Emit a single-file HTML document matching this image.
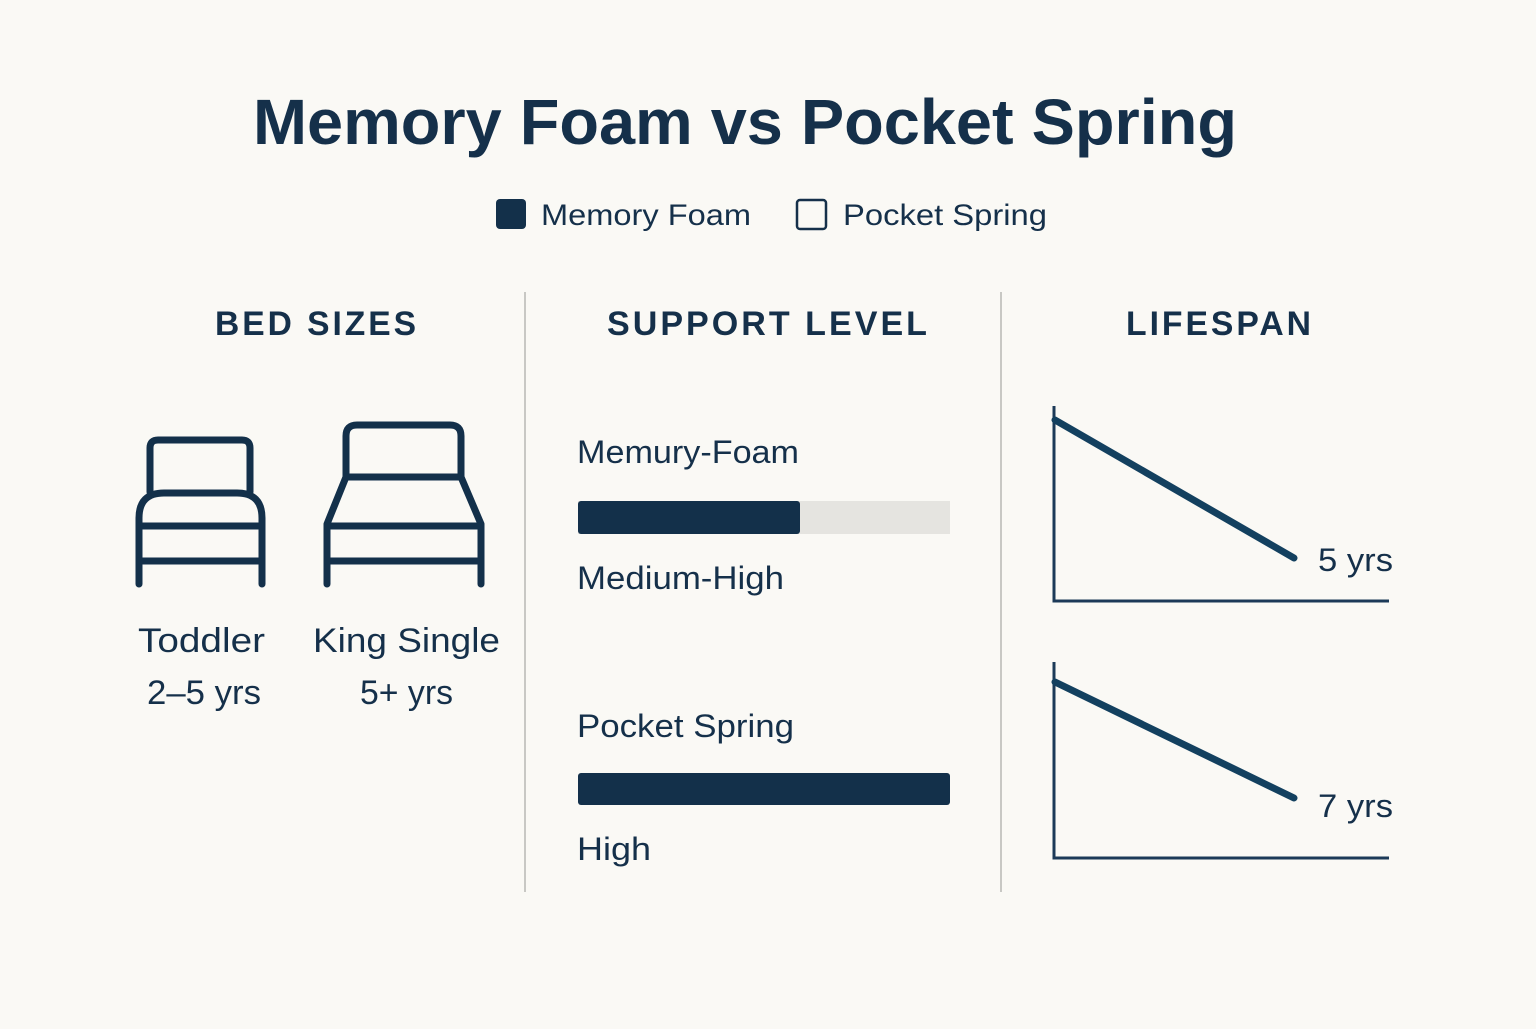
<!DOCTYPE html>
<html><head><meta charset="utf-8"><style>
html,body{margin:0;padding:0;background:#faf9f5;}
body{width:1536px;height:1024px;overflow:hidden;}
</style></head><body>
<svg width="1536" height="1024" viewBox="0 0 1536 1024" xmlns="http://www.w3.org/2000/svg" font-family="Liberation Sans, DejaVu Sans, sans-serif">
<rect width="1536" height="1024" fill="#faf9f5"/>
<text x="253" y="144" font-size="64" font-weight="bold" fill="#15304a" textLength="984" lengthAdjust="spacingAndGlyphs">Memory Foam vs Pocket Spring</text>
<rect x="496" y="199" width="30" height="30" rx="4" fill="#13304a"/>
<text x="541" y="225" font-size="30" fill="#15304a" textLength="210" lengthAdjust="spacingAndGlyphs">Memory Foam</text>
<rect x="797" y="200" width="29" height="29" rx="3" fill="none" stroke="#15304a" stroke-width="2.5"/>
<text x="843" y="225" font-size="30" fill="#15304a" textLength="204" lengthAdjust="spacingAndGlyphs">Pocket Spring</text>
<g font-size="34" font-weight="bold" fill="#15304a" letter-spacing="3">
<text x="215" y="335" textLength="204" lengthAdjust="spacingAndGlyphs">BED SIZES</text>
<text x="607" y="335" textLength="323" lengthAdjust="spacingAndGlyphs">SUPPORT LEVEL</text>
<text x="1126" y="335" textLength="188" lengthAdjust="spacingAndGlyphs">LIFESPAN</text>
</g>
<line x1="525" y1="292" x2="525" y2="892" stroke="#c8c8c4" stroke-width="2"/>
<line x1="1001" y1="292" x2="1001" y2="892" stroke="#c8c8c4" stroke-width="2"/>
<g fill="none" stroke="#13304a" stroke-width="7" stroke-linecap="round" stroke-linejoin="round">
<path d="M150 492 V448 Q150 440 158 440 H242 Q250 440 250 448 V492"/>
<path d="M139 584 V518 Q139 493 164 493 H237 Q262 493 262 518 V584"/>
<line x1="139" y1="526" x2="262" y2="526"/>
<line x1="139" y1="561" x2="262" y2="561"/>
<path d="M346 477 V436 Q346 425 357 425 H450 Q461 425 461 436 V477 Z"/>
<path d="M346 477 L327 524 V584 M461 477 L481 524 V584"/>
<line x1="327" y1="526" x2="481" y2="526"/>
<line x1="327" y1="561" x2="481" y2="561"/>
</g>
<g font-size="34" fill="#15304a">
<text x="138" y="652" textLength="127" lengthAdjust="spacingAndGlyphs">Toddler</text>
<text x="147" y="704" textLength="114" lengthAdjust="spacingAndGlyphs">2–5 yrs</text>
<text x="313" y="652" textLength="187" lengthAdjust="spacingAndGlyphs">King Single</text>
<text x="360" y="704" textLength="93" lengthAdjust="spacingAndGlyphs">5+ yrs</text>
</g>
<g font-size="32" fill="#15304a">
<text x="577" y="463" textLength="222" lengthAdjust="spacingAndGlyphs">Memury-Foam</text>
<text x="577" y="589" textLength="207" lengthAdjust="spacingAndGlyphs">Medium-High</text>
<text x="577" y="737" textLength="217" lengthAdjust="spacingAndGlyphs">Pocket Spring</text>
<text x="577" y="860" textLength="74" lengthAdjust="spacingAndGlyphs">High</text>
</g>
<rect x="578" y="501" width="372" height="33" fill="#e5e4e0"/>
<rect x="578" y="501" width="222" height="33" rx="3" fill="#13304a"/>
<rect x="578" y="773" width="372" height="32" rx="3" fill="#13304a"/>
<g fill="none" stroke="#1c3a58" stroke-width="3">
<path d="M1054 406 V601 H1389"/>
<path d="M1054 662 V858 H1389"/>
</g>
<g stroke="#13405f" stroke-width="7" stroke-linecap="round">
<line x1="1055" y1="420" x2="1294" y2="558"/>
<line x1="1055" y1="682" x2="1294" y2="798"/>
</g>
<g font-size="32" fill="#15304a">
<text x="1318" y="571" textLength="75" lengthAdjust="spacingAndGlyphs">5 yrs</text>
<text x="1318" y="817" textLength="75" lengthAdjust="spacingAndGlyphs">7 yrs</text>
</g>
</svg>
</body></html>
